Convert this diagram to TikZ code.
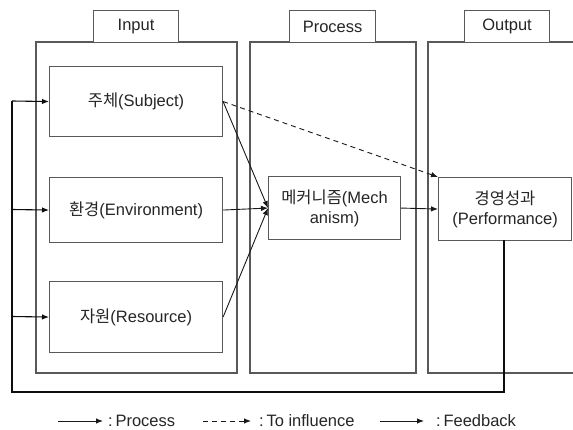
\documentclass[tikz,border=0pt]{standalone}
\usepackage{fontspec}
\setmainfont{Liberation Sans}
\newfontfamily\kr{Noto Sans CJK KR}
\usetikzlibrary{arrows.meta}
\begin{document}
\begin{tikzpicture}[x=1pt,y=-1pt,
  every node/.style={font=\fontsize{16.5}{20}\selectfont, text=black!85},
  frame/.style={draw=black!65, line width=1.1pt},
  box/.style={draw=black!65, line width=1.1pt, fill=white, inner sep=0pt},
  flow/.style={draw=black!90, line width=0.9pt, -{Latex[length=7pt,width=5.5pt]}},
  infl/.style={draw=black!90, line width=0.9pt, dashed, dash pattern=on 5pt off 4pt, -{Latex[length=7pt,width=5.5pt]}},
  fb/.style={draw=black!95, line width=1.4pt},
  fbarrow/.style={draw=black!95, line width=1.1pt, -{Latex[length=7pt,width=5.5pt]}}
]
\useasboundingbox (0,0) rectangle (573,430);
\fill[white] (0,0) rectangle (573,430);
% outer frames and tabs
\draw[frame] (36,42) rectangle (237,373);
\draw[frame] (250,42) rectangle (416,373);
\draw[frame] (573,42) -- (428,42) -- (428,373) -- (573,373);
\node[box, minimum width=85pt, minimum height=32pt, anchor=north west] (tin) at (93,10) {Input};
\node[box, minimum width=86pt, minimum height=32pt, anchor=north west] (tpr) at (289,10) {Process};
\node[box, minimum width=85pt, minimum height=32pt, anchor=north west] (tout) at (464,10) {Output};
% inner boxes
\node[box, minimum width=173pt, minimum height=70pt, anchor=north west] (subj) at (49,66) {{\kr 주체}(Subject)};
\node[box, minimum width=173pt, minimum height=65pt, anchor=north west] (env) at (49,177) {{\kr 환경}(Environment)};
\node[box, minimum width=173pt, minimum height=71pt, anchor=north west] (res) at (49,281) {{\kr 자원}(Resource)};
\node[box, minimum width=132pt, minimum height=63pt, anchor=north west, align=center] (mech) at (268,176) {{\kr 메커니즘}(Mech\\anism)};
\node[box, minimum width=133pt, minimum height=63pt, anchor=north west, align=center] (perf) at (438,177) {{\kr 경영성과}\\(Performance)};
% process arrows
\draw[flow] (subj.east) -- (mech.west);
\draw[flow] (env.east) -- (mech.west);
\draw[flow] (res.east) -- (mech.west);
\draw[flow] (mech.east) -- (perf.west);
\draw[infl] (subj.east) -- (perf.north west);
% feedback
\coordinate (fbA) at (504,240);
\coordinate (fbB) at (504,392);
\coordinate (fbC) at (12,392);
\coordinate (fbD) at (12,101);
\draw[fb] (fbA) -- (fbB) -- (fbC) -- (fbD);
\coordinate (fs) at (12,101);
\coordinate (fe) at (12,209.5);
\coordinate (fr) at (12,316.5);
\draw[fbarrow] (fs) -- (subj.west);
\draw[fbarrow] (fe) -- (env.west);
\draw[fbarrow] (fr) -- (res.west);
% legend
\coordinate (l1a) at (58,421); \coordinate (l1b) at (103,421);
\coordinate (l2a) at (203,421); \coordinate (l2b) at (251,421);
\coordinate (l3a) at (380,421); \coordinate (l3b) at (424,421);
\draw[flow, line width=1pt] (l1a) -- (l1b);
\draw[infl, line width=1pt] (l2a) -- (l2b);
\draw[flow, line width=1pt] (l3a) -- (l3b);
\node[anchor=west, inner sep=0pt] (t1) at (108,421) {:\,Process};
\node[anchor=west, inner sep=0pt] (t2) at (259,421) {:\,To influence};
\node[anchor=west, inner sep=0pt] (t3) at (436,421) {:\,Feedback};
\end{tikzpicture}
\end{document}
